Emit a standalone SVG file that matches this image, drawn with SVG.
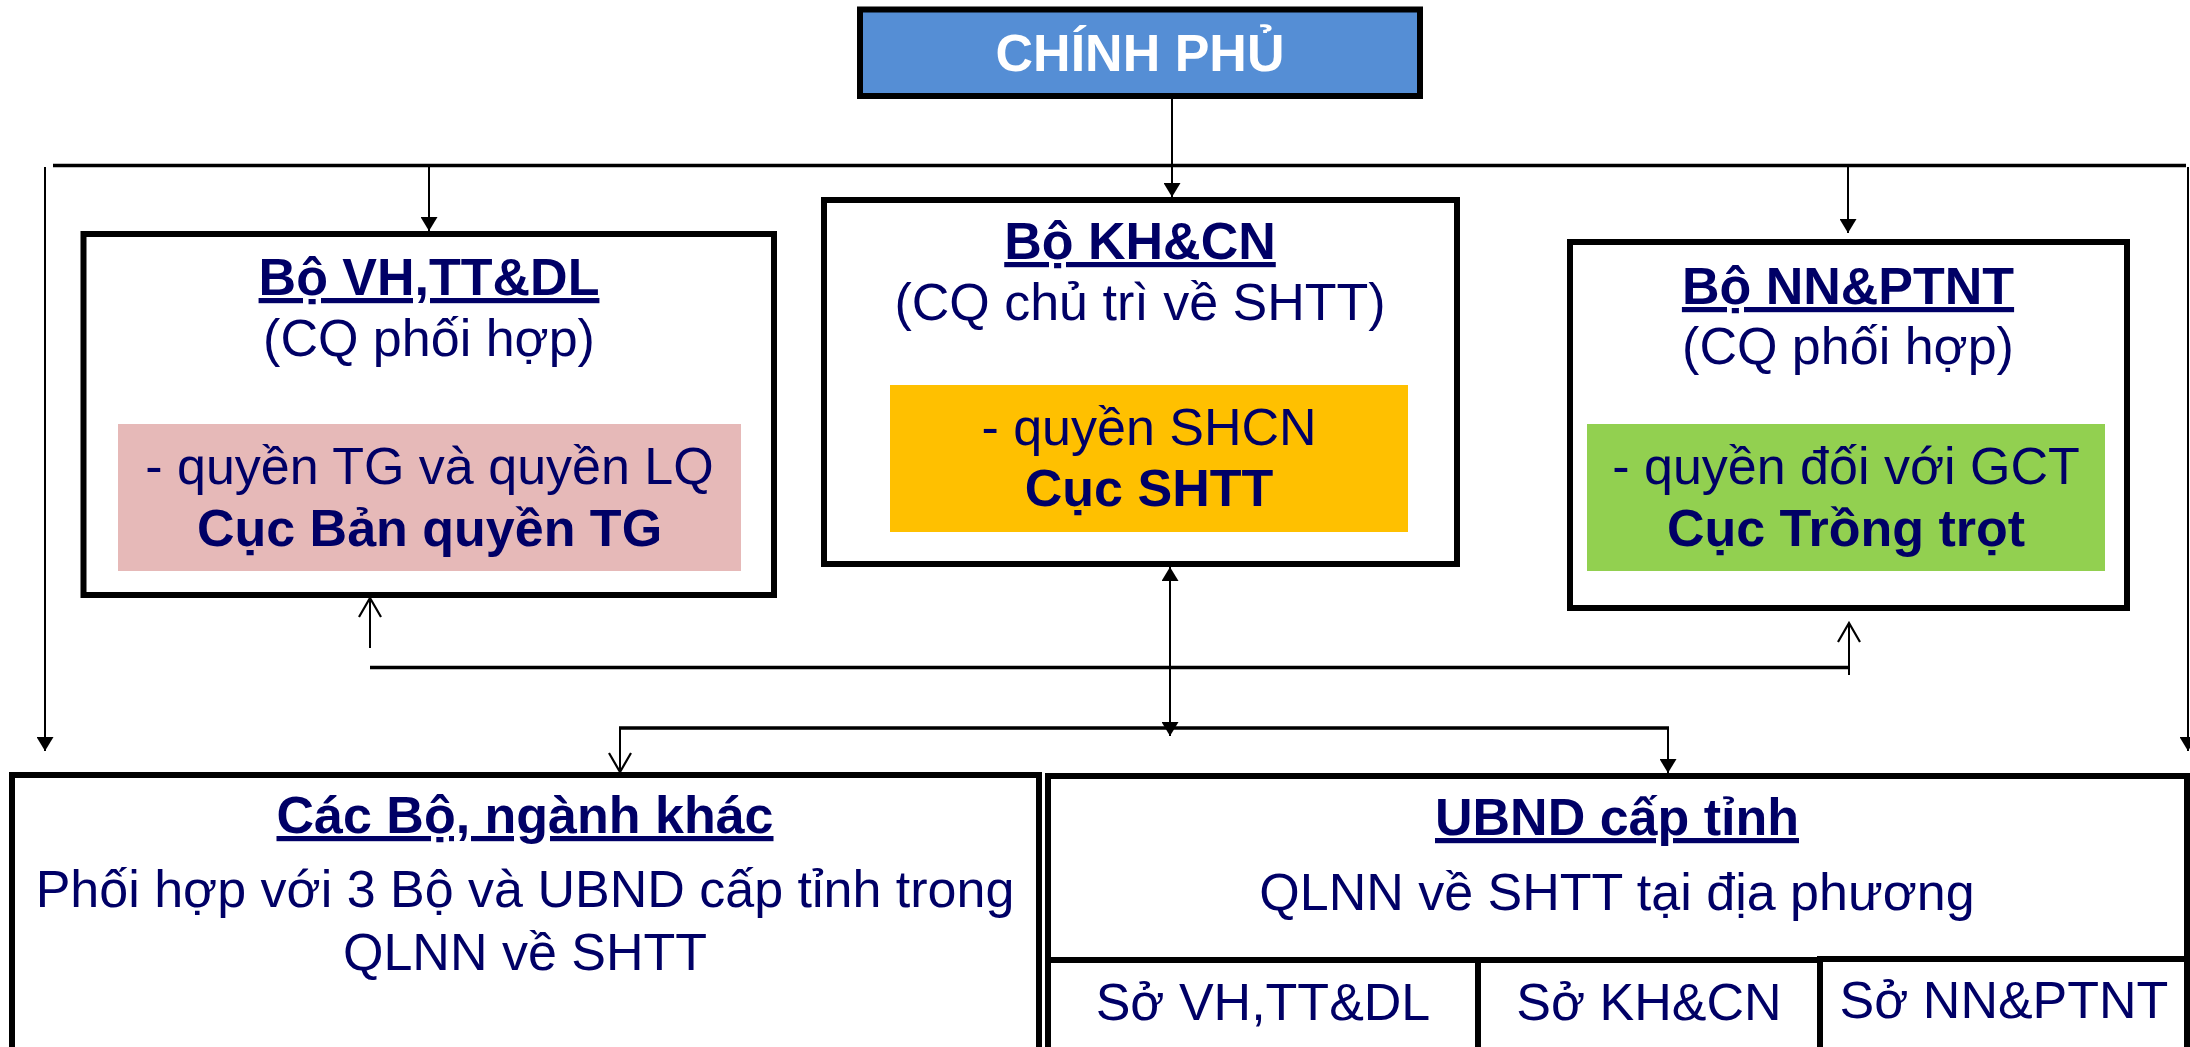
<svg xmlns="http://www.w3.org/2000/svg" width="2190" height="1047" viewBox="0 0 2190 1047">
<style>
.box{fill:#fff;stroke:#000;stroke-width:6}
.t{font-family:"Liberation Sans",Arial,sans-serif;font-size:52px;fill:#000066;text-anchor:middle}
.b{font-weight:bold}
.u{text-decoration:underline;text-decoration-skip-ink:none;text-underline-offset:7px;text-decoration-thickness:4px}
.thin{stroke:#000;stroke-width:2;fill:none}
.thick{stroke:#000;stroke-width:3.5;fill:none}
</style>
<defs>
<marker id="tri" viewBox="0 0 14 17" markerWidth="14" markerHeight="17" refX="14" refY="8.5" orient="auto-start-reverse" markerUnits="userSpaceOnUse">
<path d="M0,0 L14,8.5 L0,17 z" fill="#000"/>
</marker>
<marker id="open" viewBox="-2 -2 23 26" markerWidth="23" markerHeight="26" refX="19" refY="11" orient="auto" markerUnits="userSpaceOnUse">
<path d="M0,0 L19,11 L0,22" fill="none" stroke="#000" stroke-width="2.2"/>
</marker>
</defs>

<g id="chinh-phu">
<rect x="860" y="9.5" width="560" height="86.5" fill="#558ED5" stroke="#000" stroke-width="6"/>
<text class="t b" x="1140" y="71" style="fill:#fff">CHÍNH PHỦ</text>
</g>

<g id="bo-vhttdl">
<rect class="box" x="83.5" y="234" width="690.5" height="361"/>
<text class="t b u" x="429" y="295">Bộ VH,TT&amp;DL</text>
<text class="t" x="429" y="356">(CQ phối hợp)</text>
<rect x="118" y="424" width="623" height="147" fill="#E6B9B8"/>
<text class="t" x="429.5" y="484">- quyền TG và quyền LQ</text>
<text class="t b" x="429.5" y="546">Cục Bản quyền TG</text>
</g>

<g id="bo-khcn">
<rect class="box" x="824" y="200" width="633" height="364"/>
<text class="t b u" x="1140" y="259">Bộ KH&amp;CN</text>
<text class="t" x="1140" y="320">(CQ chủ trì về SHTT)</text>
<rect x="890" y="385" width="518" height="147" fill="#FFC000"/>
<text class="t" x="1149" y="445">- quyền SHCN</text>
<text class="t b" x="1149" y="506">Cục SHTT</text>
</g>

<g id="bo-nnptnt">
<rect class="box" x="1570" y="242" width="557" height="366"/>
<text class="t b u" x="1848" y="304">Bộ NN&amp;PTNT</text>
<text class="t" x="1848" y="364">(CQ phối hợp)</text>
<rect x="1587" y="424" width="518" height="147" fill="#92D050"/>
<text class="t" x="1846" y="484">- quyền đối với GCT</text>
<text class="t b" x="1846" y="546">Cục Trồng trọt</text>
</g>

<g id="cac-bo-nganh-khac">
<rect class="box" x="12" y="775" width="1027" height="300"/>
<text class="t b u" x="525" y="833">Các Bộ, ngành khác</text>
<text class="t" x="525" y="907">Phối hợp với 3 Bộ và UBND cấp tỉnh trong</text>
<text class="t" x="525" y="970">QLNN về SHTT</text>
</g>

<g id="ubnd-cap-tinh">
<rect class="box" x="1048" y="776" width="1139" height="184"/>
<text class="t b u" x="1617" y="835">UBND cấp tỉnh</text>
<text class="t" x="1617" y="910">QLNN về SHTT tại địa phương</text>
</g>

<g id="so-vhttdl">
<rect class="box" x="1048" y="960" width="430" height="120"/>
<text class="t" x="1263" y="1020">Sở VH,TT&amp;DL</text>
</g>
<g id="so-khcn">
<rect class="box" x="1478" y="960" width="342" height="120"/>
<text class="t" x="1649" y="1020">Sở KH&amp;CN</text>
</g>
<g id="so-nnptnt">
<rect class="box" x="1820" y="959" width="367" height="120"/>
<text class="t" x="2004" y="1018">Sở NN&amp;PTNT</text>
</g>

<g id="connectors">
<line class="thin" x1="1172" y1="99" x2="1172" y2="197" marker-end="url(#tri)"/>
<line class="thick" x1="53" y1="165.5" x2="2186" y2="165.5"/>
<line class="thin" x1="429" y1="167" x2="429" y2="231" marker-end="url(#tri)"/>
<line class="thin" x1="1848" y1="167" x2="1848" y2="233" marker-end="url(#tri)"/>
<line class="thin" x1="45" y1="167" x2="45" y2="751" marker-end="url(#tri)"/>
<line class="thin" x1="2188" y1="167" x2="2188" y2="751" marker-end="url(#tri)"/>
<line class="thick" x1="370" y1="667.5" x2="1849" y2="667.5"/>
<line class="thin" x1="370" y1="648" x2="370" y2="598" marker-end="url(#open)"/>
<line class="thin" x1="1849" y1="675" x2="1849" y2="623" marker-end="url(#open)"/>
<line class="thin" x1="1170" y1="567" x2="1170" y2="736" marker-start="url(#tri)" marker-end="url(#tri)"/>
<line class="thick" x1="619" y1="728" x2="1669" y2="728"/>
<line class="thin" x1="620" y1="727" x2="620" y2="772" marker-end="url(#open)"/>
<line class="thin" x1="1668" y1="727" x2="1668" y2="773" marker-end="url(#tri)"/>
</g>
</svg>
